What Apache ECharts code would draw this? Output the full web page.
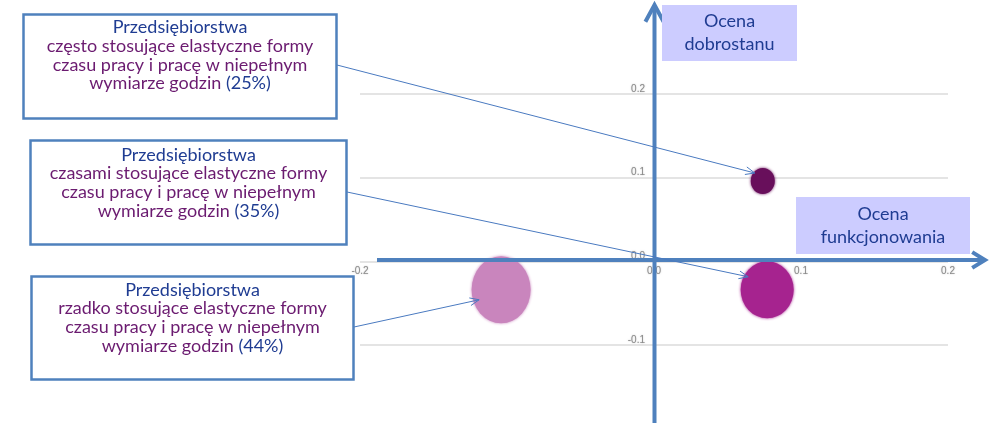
<!DOCTYPE html>
<html>
<head>
<meta charset="utf-8">
<script src="https://cdn.jsdelivr.net/npm/echarts@6/dist/echarts.min.js"></script>
<style>
  html, body { margin: 0; padding: 0; background: #ffffff; }
  #chart { width: 993px; height: 423px; }
</style>
</head>
<body>
<div id="chart"></div>
<script>
// Grupy przedsiębiorstw wg częstości stosowania elastycznych form pracy
const frequency = ['często', 'czasami', 'rzadko'];
// Udział przedsiębiorstw w grupie (%)
const share = [25, 35, 44];
// Ocena funkcjonowania (oś X)
const functioning = [0.074, 0.077, -0.104];
// Ocena dobrostanu (oś Y)
const wellbeing = [0.096, -0.034, -0.034];
// Zakresy osi
const xTicks = [-0.2, -0.1, 0.0, 0.1, 0.2];
const yTicks = [-0.1, 0.0, 0.1, 0.2];
const axisTitles = ['Ocena\ndobrostanu', 'Ocena\nfunkcjonowania'];

// ---- styles ----
const bubbleColors = ['#680f5b', '#a6238f', '#c985bd'];
const bubbleSizes = [[24, 26], [53, 57], [59, 67]];
const AXIS_BLUE = '#4f81bd';
const LINK_BLUE = '#4a7ac0';
const TXT_BLUE = '#1f3c92';
const TXT_PURPLE = '#6b1b70';
const BOX_FONT = 'Lato, "Open Sans", sans-serif';

// plot area
const GRID = { left: 360, right: 45, top: 94, bottom: 78 };
const W = 993, H = 423;

// annotation boxes: rect + text anchor + connector start
const boxes = [
  { x: 23.5, y: 14.5, w: 313, h: 104, textTop: 18, lineStart: [337, 65], tipOffset: [-8, -8] },
  { x: 30.5, y: 140.5, w: 316, h: 104, textTop: 145.5, lineStart: [347, 192], tipOffset: [-19, -13] },
  { x: 31.5, y: 276.5, w: 322, h: 103, textTop: 280.5, lineStart: [354, 327], tipOffset: [-22, 10] }
];

const chart = echarts.init(document.getElementById('chart'), null, { renderer: 'canvas', width: W, height: H });

const xMin = xTicks[0], xMax = xTicks[xTicks.length - 1];
const yMin = yTicks[0], yMax = yTicks[yTicks.length - 1];
// axes cross at zero: shift each axis from the grid edge to the other axis's zero
const gridW = W - GRID.left - GRID.right;
const gridH = H - GRID.top - GRID.bottom;
const yAxisOffset = -((0 - xMin) / (xMax - xMin)) * gridW;
const xAxisOffset = -((0 - yMin) / (yMax - yMin)) * gridH;

const tickLabel = {
  color: '#8c8c8c',
  fontSize: 10,
  fontFamily: 'Arial, "Liberation Sans", sans-serif',
  textShadowColor: 'rgba(140,140,140,0.6)',
  textShadowBlur: 1.5,
  formatter: v => (Math.round(v * 10) / 10).toFixed(1)
};

chart.setOption({
  animation: false,
  grid: Object.assign({ containLabel: false }, GRID),
  xAxis: {
    type: 'value', position: 'bottom', offset: xAxisOffset,
    min: xMin, max: xMax, interval: 0.1,
    axisLine: { show: false, onZero: false },
    axisTick: { show: false },
    splitLine: { show: false },
    axisLabel: Object.assign({}, tickLabel, { margin: 5 })
  },
  yAxis: {
    type: 'value', position: 'left', offset: yAxisOffset,
    min: yMin, max: yMax, interval: 0.1,
    axisLine: { show: false, onZero: false },
    axisTick: { show: false },
    splitLine: { show: true, lineStyle: { color: '#e4e4e4', width: 2 } },
    axisLabel: Object.assign({}, tickLabel, { margin: 9, verticalAlign: 'bottom' })
  },
  series: [{
    type: 'scatter',
    z: 5,
    data: functioning.map((x, i) => ({
      value: [x, wellbeing[i], share[i]],
      symbolSize: bubbleSizes[i],
      itemStyle: { color: bubbleColors[i], shadowColor: bubbleColors[i], shadowBlur: 3, opacity: 1 }
    }))
  }]
});

function chevron(tip, dir, len, spread) {
  // open arrowhead: two arms back from the tip
  const a = Math.atan2(dir[1], dir[0]);
  const p1 = [tip[0] - len * Math.cos(a - spread), tip[1] - len * Math.sin(a - spread)];
  const p2 = [tip[0] - len * Math.cos(a + spread), tip[1] - len * Math.sin(a + spread)];
  return [p1, tip, p2];
}

function buildGraphics() {
  const origin = chart.convertToPixel({ gridIndex: 0 }, [0, 0]);
  const ox = Math.round(origin[0]) + 0.5, oy = Math.round(origin[1]) - 1;
  const els = [];

  // main axes with arrows
  els.push({ type: 'line', z: 20, shape: { x1: ox, y1: H, x2: ox, y2: 7 }, style: { stroke: AXIS_BLUE, lineWidth: 4 } });
  els.push({ type: 'polyline', z: 20, shape: { points: chevron([ox, 5], [0, -1], 19, 0.5) }, style: { stroke: AXIS_BLUE, lineWidth: 4, fill: null, lineJoin: 'miter' } });
  els.push({ type: 'line', z: 20, shape: { x1: 377, y1: oy, x2: 983, y2: oy }, style: { stroke: AXIS_BLUE, lineWidth: 4 } });
  els.push({ type: 'polyline', z: 20, shape: { points: chevron([985, oy], [1, 0], 15, 0.55) }, style: { stroke: AXIS_BLUE, lineWidth: 4, fill: null, lineJoin: 'miter' } });

  // axis titles
  const titleBoxes = [
    { x: 662, y: 5, w: 135, h: 56 },
    { x: 796, y: 197, w: 174, h: 57 }
  ];
  titleBoxes.forEach((b, i) => {
    els.push({ type: 'rect', z: 25, shape: { x: b.x, y: b.y, width: b.w, height: b.h }, style: { fill: '#ccccff' } });
    els.push({
      type: 'text', z: 26, x: b.x + b.w / 2, y: b.y + b.h / 2,
      style: { text: axisTitles[i], fill: TXT_BLUE, font: '18px ' + BOX_FONT, lineHeight: 23, align: 'center', verticalAlign: 'middle' }
    });
  });

  // annotation boxes and connectors
  boxes.forEach((b, i) => {
    els.push({ type: 'rect', z: 30, shape: { x: b.x, y: b.y, width: b.w, height: b.h }, style: { fill: '#ffffff', stroke: AXIS_BLUE, lineWidth: 2.5 } });
    const txt = '{b|Przedsiębiorstwa}\n' +
      '{p|' + frequency[i] + ' stosujące elastyczne formy}\n' +
      '{p|czasu pracy i pracę w niepełnym}\n' +
      '{p|wymiarze godzin }{b|(' + share[i] + '%)}';
    els.push({
      type: 'text', z: 31, x: b.x + b.w / 2, y: b.textTop,
      style: {
        text: txt, align: 'center', verticalAlign: 'top',
        rich: {
          b: { fill: TXT_BLUE, fontSize: 18, fontFamily: BOX_FONT, lineHeight: 18.7 },
          p: { fill: TXT_PURPLE, fontSize: 18, fontFamily: BOX_FONT, lineHeight: 18.7 }
        }
      }
    });
    const c = chart.convertToPixel({ gridIndex: 0 }, [functioning[i], wellbeing[i]]);
    const tip = [c[0] + b.tipOffset[0], c[1] + b.tipOffset[1]];
    const s = b.lineStart;
    els.push({ type: 'line', z: 28, shape: { x1: s[0], y1: s[1], x2: tip[0], y2: tip[1] }, style: { stroke: LINK_BLUE, lineWidth: 1 } });
    els.push({ type: 'polyline', z: 28, shape: { points: chevron(tip, [tip[0] - s[0], tip[1] - s[1]], 10, 0.4) }, style: { stroke: LINK_BLUE, lineWidth: 1, fill: null } });
  });

  chart.setOption({ graphic: { elements: els } });
}

buildGraphics();
</script>
</body>
</html>
